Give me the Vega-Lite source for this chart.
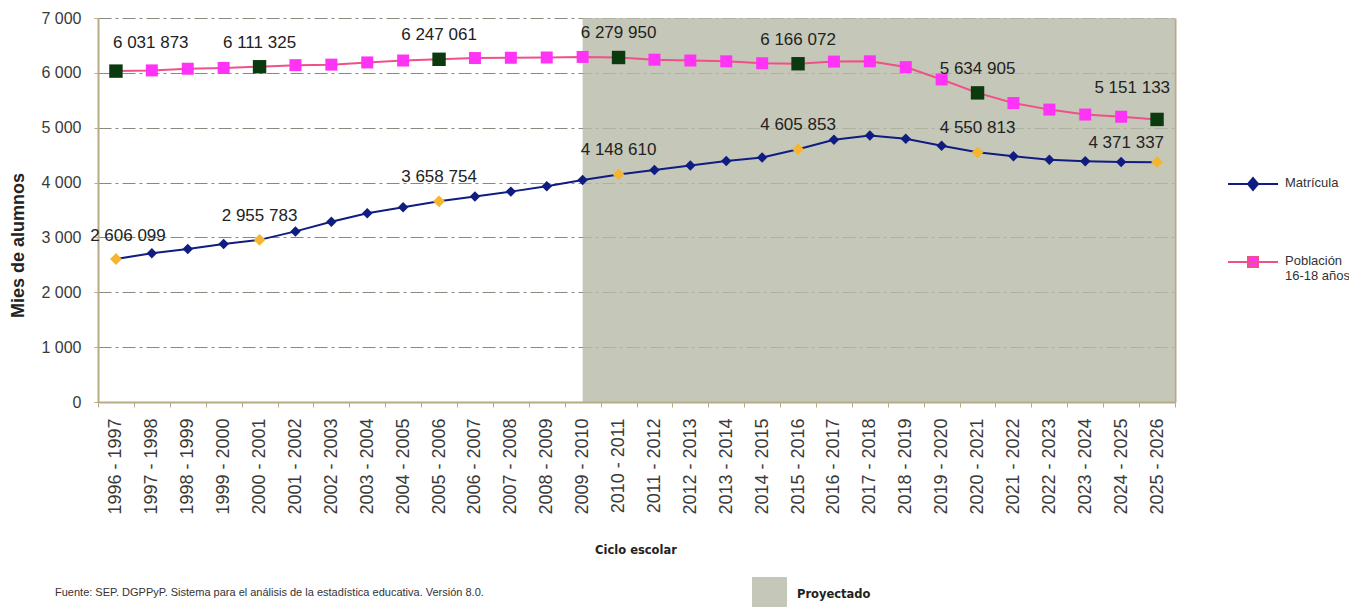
{
  "$schema": "https://vega.github.io/schema/vega-lite/v6.json",
  "width": 1077,
  "height": 384,
  "autosize": "none",
  "padding": {"left": 98, "top": 18, "right": 174, "bottom": 205},
  "background": "white",
  "config": {
    "font": "Liberation Sans",
    "view": {"stroke": null},
    "locale": {"number": {"decimal": ",", "thousands": " ", "grouping": [3], "currency": ["$", ""]}}
  },
  "title": {
    "text": "Fuente: SEP. DGPPyP. Sistema para el análisis de la estadística educativa. Versión 8.0.",
    "orient": "bottom",
    "anchor": "start",
    "frame": "group",
    "font": "Liberation Sans",
    "fontSize": 11,
    "fontWeight": "normal",
    "color": "#333333",
    "baseline": "top",
    "dx": -43,
    "dy": -25,
    "offset": 0
  },
  "datasets": {
    "ciclos": [
      {"ciclo": "1996 - 1997", "serie": "Matrícula", "alumnos": 2606099},
      {"ciclo": "1997 - 1998", "serie": "Matrícula", "alumnos": 2713000},
      {"ciclo": "1998 - 1999", "serie": "Matrícula", "alumnos": 2790000},
      {"ciclo": "1999 - 2000", "serie": "Matrícula", "alumnos": 2880000},
      {"ciclo": "2000 - 2001", "serie": "Matrícula", "alumnos": 2955783},
      {"ciclo": "2001 - 2002", "serie": "Matrícula", "alumnos": 3110000},
      {"ciclo": "2002 - 2003", "serie": "Matrícula", "alumnos": 3285000},
      {"ciclo": "2003 - 2004", "serie": "Matrícula", "alumnos": 3440000},
      {"ciclo": "2004 - 2005", "serie": "Matrícula", "alumnos": 3550000},
      {"ciclo": "2005 - 2006", "serie": "Matrícula", "alumnos": 3658754},
      {"ciclo": "2006 - 2007", "serie": "Matrícula", "alumnos": 3745000},
      {"ciclo": "2007 - 2008", "serie": "Matrícula", "alumnos": 3835000},
      {"ciclo": "2008 - 2009", "serie": "Matrícula", "alumnos": 3935000},
      {"ciclo": "2009 - 2010", "serie": "Matrícula", "alumnos": 4045000},
      {"ciclo": "2010 - 2011", "serie": "Matrícula", "alumnos": 4148610},
      {"ciclo": "2011 - 2012", "serie": "Matrícula", "alumnos": 4230000},
      {"ciclo": "2012 - 2013", "serie": "Matrícula", "alumnos": 4310000},
      {"ciclo": "2013 - 2014", "serie": "Matrícula", "alumnos": 4395000},
      {"ciclo": "2014 - 2015", "serie": "Matrícula", "alumnos": 4455000},
      {"ciclo": "2015 - 2016", "serie": "Matrícula", "alumnos": 4605853},
      {"ciclo": "2016 - 2017", "serie": "Matrícula", "alumnos": 4780000},
      {"ciclo": "2017 - 2018", "serie": "Matrícula", "alumnos": 4860000},
      {"ciclo": "2018 - 2019", "serie": "Matrícula", "alumnos": 4800000},
      {"ciclo": "2019 - 2020", "serie": "Matrícula", "alumnos": 4670000},
      {"ciclo": "2020 - 2021", "serie": "Matrícula", "alumnos": 4550813},
      {"ciclo": "2021 - 2022", "serie": "Matrícula", "alumnos": 4480000},
      {"ciclo": "2022 - 2023", "serie": "Matrícula", "alumnos": 4415000},
      {"ciclo": "2023 - 2024", "serie": "Matrícula", "alumnos": 4390000},
      {"ciclo": "2024 - 2025", "serie": "Matrícula", "alumnos": 4375000},
      {"ciclo": "2025 - 2026", "serie": "Matrícula", "alumnos": 4371337},
      {"ciclo": "1996 - 1997", "serie": "Población 16-18 años", "alumnos": 6031873},
      {"ciclo": "1997 - 1998", "serie": "Población 16-18 años", "alumnos": 6045000},
      {"ciclo": "1998 - 1999", "serie": "Población 16-18 años", "alumnos": 6075000},
      {"ciclo": "1999 - 2000", "serie": "Población 16-18 años", "alumnos": 6090000},
      {"ciclo": "2000 - 2001", "serie": "Población 16-18 años", "alumnos": 6111325},
      {"ciclo": "2001 - 2002", "serie": "Población 16-18 años", "alumnos": 6140000},
      {"ciclo": "2002 - 2003", "serie": "Población 16-18 años", "alumnos": 6150000},
      {"ciclo": "2003 - 2004", "serie": "Población 16-18 años", "alumnos": 6190000},
      {"ciclo": "2004 - 2005", "serie": "Población 16-18 años", "alumnos": 6225000},
      {"ciclo": "2005 - 2006", "serie": "Población 16-18 años", "alumnos": 6247061},
      {"ciclo": "2006 - 2007", "serie": "Población 16-18 años", "alumnos": 6270000},
      {"ciclo": "2007 - 2008", "serie": "Población 16-18 años", "alumnos": 6275000},
      {"ciclo": "2008 - 2009", "serie": "Población 16-18 años", "alumnos": 6280000},
      {"ciclo": "2009 - 2010", "serie": "Población 16-18 años", "alumnos": 6290000},
      {"ciclo": "2010 - 2011", "serie": "Población 16-18 años", "alumnos": 6279950},
      {"ciclo": "2011 - 2012", "serie": "Población 16-18 años", "alumnos": 6240000},
      {"ciclo": "2012 - 2013", "serie": "Población 16-18 años", "alumnos": 6225000},
      {"ciclo": "2013 - 2014", "serie": "Población 16-18 años", "alumnos": 6210000},
      {"ciclo": "2014 - 2015", "serie": "Población 16-18 años", "alumnos": 6175000},
      {"ciclo": "2015 - 2016", "serie": "Población 16-18 años", "alumnos": 6166072},
      {"ciclo": "2016 - 2017", "serie": "Población 16-18 años", "alumnos": 6205000},
      {"ciclo": "2017 - 2018", "serie": "Población 16-18 años", "alumnos": 6210000},
      {"ciclo": "2018 - 2019", "serie": "Población 16-18 años", "alumnos": 6105000},
      {"ciclo": "2019 - 2020", "serie": "Población 16-18 años", "alumnos": 5880000},
      {"ciclo": "2020 - 2021", "serie": "Población 16-18 años", "alumnos": 5634905},
      {"ciclo": "2021 - 2022", "serie": "Población 16-18 años", "alumnos": 5450000},
      {"ciclo": "2022 - 2023", "serie": "Población 16-18 años", "alumnos": 5330000},
      {"ciclo": "2023 - 2024", "serie": "Población 16-18 años", "alumnos": 5240000},
      {"ciclo": "2024 - 2025", "serie": "Población 16-18 años", "alumnos": 5200000},
      {"ciclo": "2025 - 2026", "serie": "Población 16-18 años", "alumnos": 5151133}
    ],
    "proyeccion": [
      {"ciclo": "2009 - 2010", "techo": 7000000, "tipo": "Proyectado"}
    ]
  },
  "layer": [
    {
      "data": {"name": "proyeccion"},
      "mark": {"type": "rect", "opacity": 0.8, "strokeWidth": 0},
      "encoding": {
        "x": {"field": "ciclo", "type": "ordinal", "sort": "ascending", "bandPosition": 0.5},
        "x2": {"value": "width"},
        "y": {
          "field": "techo", "type": "quantitative",
          "axis": {"orient": "right", "labels": false, "ticks": false, "grid": false, "title": null, "domainColor": "#B9AA86", "domainWidth": 2}
        },
        "y2": {"datum": 0},
        "fill": {
          "field": "tipo", "type": "nominal",
          "scale": {"range": ["#B6BAA7"]},
          "legend": {
            "orient": "none", "legendX": 654, "legendY": 559, "title": null, "padding": 0,
            "symbolType": "square", "symbolSize": 1225, "symbolStrokeWidth": 0, "symbolOpacity": 0.8,
            "labelFont": "DejaVu Sans", "labelFontWeight": "bold", "labelFontSize": 11.5,
            "labelColor": "#222222", "labelOffset": 10
          }
        }
      }
    },
    {
      "data": {"name": "ciclos"},
      "mark": {"type": "line", "strokeWidth": 2},
      "encoding": {
        "x": {
          "field": "ciclo", "type": "ordinal", "sort": "ascending",
          "scale": {"paddingInner": 0, "paddingOuter": 0},
          "axis": {
            "title": "Ciclo escolar", "titleFont": "DejaVu Sans", "titleFontSize": 11.5, "titleFontWeight": "bold",
            "titleColor": "#222222", "titleX": 537.5, "titleY": 148, "titleBaseline": "middle",
            "labelAngle": -90, "labelAlign": "right", "labelBaseline": "middle", "labelFontSize": 18,
            "labelColor": "#3A3A3A", "labelPadding": 11, "tickSize": 5, "tickColor": "#B9AA86",
            "domainColor": "#B9AA86", "domainWidth": 2, "tickBand": "extent", "grid": false
          }
        },
        "y": {
          "field": "alumnos", "type": "quantitative",
          "scale": {"domain": [0, 7000000]},
          "axis": {
            "title": "Mies de alumnos", "titleFontSize": 18, "titleFontWeight": "bold", "titleColor": "#222222",
            "titleX": -80, "titleY": 227, "titleAngle": -90, "titleAlign": "center", "titleBaseline": "middle",
            "values": [0, 1000000, 2000000, 3000000, 4000000, 5000000, 6000000, 7000000],
            "labelExpr": "format(datum.value / 1000, ',')",
            "labelFontSize": 16, "labelColor": "#3A3A3A", "labelPadding": 13,
            "tickSize": 4, "tickColor": "#B9AA86", "domainColor": "#B9AA86", "domainWidth": 2,
            "grid": true, "gridColor": "#8A8A80", "gridDash": [13, 4, 3, 4], "gridWidth": 1
          }
        },
        "color": {
          "field": "serie", "type": "nominal",
          "scale": {"domain": ["Matrícula", "Población 16-18 años"], "range": ["#101C80", "#F0508A"]},
          "legend": {
            "orient": "none", "legendX": 1129, "legendY": 140, "title": null, "padding": 0,
            "symbolSize": 2500, "symbolStrokeWidth": 2, "labelFontSize": 13, "labelColor": "#333333",
            "labelOffset": 6, "rowPadding": 42, "labelLimit": 200, "labelBaseline": "top",
            "labelExpr": "datum.label === 'Matrícula' ? datum.label : ['Población', '16-18 años']",
            "encode": {
              "symbols": {
                "update": {
                  "shape": {"signal": "datum.value === 'Matrícula' ? 'M-1,0L-0.2,0L0,-0.24L0.2,0L1,0M0.2,0L0,0.24L-0.2,0Z' : 'M-1,0L-0.2,0L-0.2,-0.2L0.2,-0.2L0.2,0L1,0M0.2,0L0.2,0.2L-0.2,0.2L-0.2,0Z'"},
                  "fill": {"signal": "datum.value === 'Matrícula' ? '#101C80' : '#FF33F5'"},
                  "fillOpacity": {"value": 1}
                }
              },
              "labels": {"update": {"dy": {"value": -7}}}
            }
          }
        }
      }
    },
    {
      "data": {"name": "ciclos"},
      "mark": {"type": "point", "filled": true, "opacity": 1, "strokeWidth": 0},
      "encoding": {
        "x": {"field": "ciclo", "type": "ordinal", "sort": "ascending"},
        "y": {"field": "alumnos", "type": "quantitative", "axis": null},
        "shape": {
          "field": "serie", "type": "nominal",
          "scale": {"domain": ["Matrícula", "Población 16-18 años"], "range": ["diamond", "square"]},
          "legend": null
        },
        "fill": {
          "condition": [
            {"test": "indexof(['1996 - 1997','2000 - 2001','2005 - 2006','2010 - 2011','2015 - 2016','2020 - 2021','2025 - 2026'], datum.ciclo) >= 0 && datum.serie === 'Matrícula'", "value": "#F5B52E"},
            {"test": "indexof(['1996 - 1997','2000 - 2001','2005 - 2006','2010 - 2011','2015 - 2016','2020 - 2021','2025 - 2026'], datum.ciclo) >= 0", "value": "#0B3A0E"}
          ],
          "field": "serie", "type": "nominal",
          "scale": {"domain": ["Matrícula", "Población 16-18 años"], "range": ["#101C80", "#FF33F5"]},
          "legend": null
        },
        "size": {
          "condition": [
            {"test": "indexof(['1996 - 1997','2000 - 2001','2005 - 2006','2010 - 2011','2015 - 2016','2020 - 2021','2025 - 2026'], datum.ciclo) >= 0 && datum.serie === 'Matrícula'", "value": 140},
            {"test": "indexof(['1996 - 1997','2000 - 2001','2005 - 2006','2010 - 2011','2015 - 2016','2020 - 2021','2025 - 2026'], datum.ciclo) >= 0", "value": 180}
          ],
          "field": "serie", "type": "ordinal",
          "scale": {"domain": ["Matrícula", "Población 16-18 años"], "range": [110, 144]},
          "legend": null
        }
      }
    },
    {
      "data": {"name": "ciclos"},
      "transform": [
        {"filter": "indexof(['2000 - 2001','2005 - 2006','2010 - 2011','2015 - 2016','2020 - 2021'], datum.ciclo) >= 0"}
      ],
      "mark": {"type": "text", "dy": -24, "fontSize": 17, "color": "#222222"},
      "encoding": {
        "x": {"field": "ciclo", "type": "ordinal", "sort": "ascending"},
        "y": {"field": "alumnos", "type": "quantitative", "axis": null},
        "text": {"field": "alumnos", "type": "quantitative", "format": ","}
      }
    },
    {
      "data": {"name": "ciclos"},
      "transform": [
        {"filter": "datum.ciclo === '1996 - 1997' && datum.serie === 'Población 16-18 años'"}
      ],
      "mark": {"type": "text", "align": "left", "dx": -3, "dy": -28, "fontSize": 17, "color": "#222222"},
      "encoding": {
        "x": {"field": "ciclo", "type": "ordinal", "sort": "ascending"},
        "y": {"field": "alumnos", "type": "quantitative", "axis": null},
        "text": {"field": "alumnos", "type": "quantitative", "format": ","}
      }
    },
    {
      "data": {"name": "ciclos"},
      "transform": [
        {"filter": "datum.ciclo === '1996 - 1997' && datum.serie === 'Matrícula'"}
      ],
      "mark": {"type": "text", "dx": 12, "dy": -23, "fontSize": 17, "color": "#222222"},
      "encoding": {
        "x": {"field": "ciclo", "type": "ordinal", "sort": "ascending"},
        "y": {"field": "alumnos", "type": "quantitative", "axis": null},
        "text": {"field": "alumnos", "type": "quantitative", "format": ","}
      }
    },
    {
      "data": {"name": "ciclos"},
      "transform": [
        {"filter": "datum.ciclo === '2025 - 2026' && datum.serie === 'Población 16-18 años'"}
      ],
      "mark": {"type": "text", "align": "right", "dx": 13, "dy": -31, "fontSize": 17, "color": "#222222"},
      "encoding": {
        "x": {"field": "ciclo", "type": "ordinal", "sort": "ascending"},
        "y": {"field": "alumnos", "type": "quantitative", "axis": null},
        "text": {"field": "alumnos", "type": "quantitative", "format": ","}
      }
    },
    {
      "data": {"name": "ciclos"},
      "transform": [
        {"filter": "datum.ciclo === '2025 - 2026' && datum.serie === 'Matrícula'"}
      ],
      "mark": {"type": "text", "align": "right", "dx": 7, "dy": -19, "fontSize": 17, "color": "#222222"},
      "encoding": {
        "x": {"field": "ciclo", "type": "ordinal", "sort": "ascending"},
        "y": {"field": "alumnos", "type": "quantitative", "axis": null},
        "text": {"field": "alumnos", "type": "quantitative", "format": ","}
      }
    }
  ],
  "resolve": {"scale": {"fill": "independent", "size": "independent", "shape": "independent"}, "axis": {"y": "independent"}}
}
